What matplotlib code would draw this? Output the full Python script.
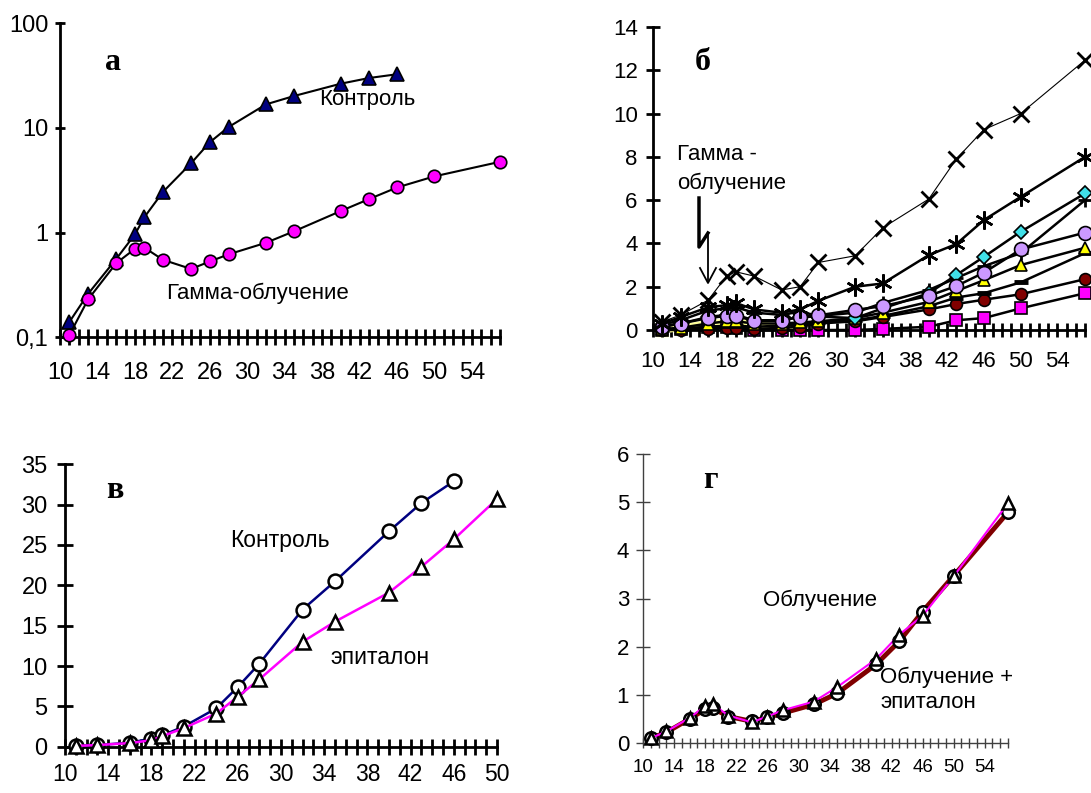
import matplotlib
matplotlib.use("Agg")
import matplotlib.pyplot as plt
from matplotlib.lines import Line2D
from matplotlib.ticker import NullLocator

plt.rcParams['font.family'] = ['Liberation Sans', 'DejaVu Sans']

# ---- данные ----
days = [11, 13, 16, 18, 19, 21, 24, 26, 28, 32, 35, 40, 43, 46, 50, 57]
days_ctrl = days[:14]
days_epit = days[:15]

control = [0.14, 0.26, 0.56, 0.96, 1.4, 2.45, 4.6, 7.3, 10.2, 16.8, 20.2, 26.5, 30.0, 32.6]
gamma = [0.105, 0.23, 0.51, 0.70, 0.72, 0.55, 0.45, 0.53, 0.62, 0.80, 1.03, 1.61, 2.09, 2.70, 3.45, 4.75]

control_v = [0.1, 0.2, 0.5, 1.0, 1.4, 2.5, 4.75, 7.4, 10.3, 17.0, 20.5, 26.7, 30.2, 32.9]
epitalon_v = [0.1, 0.2, 0.45, 0.8, 1.3, 2.3, 4.1, 6.2, 8.35, 13.0, 15.5, 19.1, 22.3, 25.7, 30.7]

irr_g = [0.1, 0.22, 0.5, 0.7, 0.72, 0.55, 0.45, 0.53, 0.62, 0.8, 1.03, 1.63, 2.11, 2.73, 3.47, 4.79]
irr_epit_g = [0.1, 0.24, 0.52, 0.77, 0.8, 0.57, 0.43, 0.55, 0.68, 0.86, 1.16, 1.74, 2.25, 2.64, 3.46, 4.98]

# панель б: отдельные группы
b_cross = [0.38, 0.69, 1.38, 2.49, 2.69, 2.49, 1.85, 2.0, 3.12, 3.43, 4.72, 6.05, 7.9, 9.26, 10.0, 12.47]
b_star = [0.3, 0.6, 1.05, 1.15, 1.25, 0.95, 0.8, 0.95, 1.35, 2.0, 2.15, 3.46, 3.97, 5.08, 6.15, 8.0]
b_plus = [0.25, 0.45, 0.9, 1.0, 1.05, 0.8, 0.7, 0.85, 0.65, 0.8, 1.25, 1.85, 2.4, 2.95, 3.55, 6.0]
b_diamond = [0.15, 0.3, 0.6, 0.7, 0.7, 0.45, 0.45, 0.6, 0.62, 0.55, 1.0, 1.7, 2.54, 3.38, 4.54, 6.31]
b_lilac = [0.15, 0.3, 0.55, 0.65, 0.65, 0.42, 0.42, 0.62, 0.68, 0.93, 1.1, 1.58, 2.03, 2.65, 3.72, 4.5]
b_yellow = [0.05, 0.1, 0.3, 0.4, 0.4, 0.3, 0.3, 0.35, 0.4, 0.55, 0.8, 1.3, 1.8, 2.3, 3.0, 3.8]
b_dash = [0.0, 0.05, 0.15, 0.2, 0.2, 0.15, 0.2, 0.25, 0.35, 0.45, 0.65, 1.1, 1.5, 1.7, 2.2, 3.55]
b_maroon = [0.0, 0.0, 0.05, 0.1, 0.1, 0.05, 0.1, 0.15, 0.3, 0.4, 0.6, 0.95, 1.2, 1.4, 1.65, 2.35]
b_square = [0.0, 0.05, 0.15, 0.15, 0.1, 0.0, 0.0, 0.0, 0.0, 0.0, 0.05, 0.15, 0.45, 0.55, 1.0, 1.7]
days_pale = days[:8]
b_pale = [0.0, 0.1, 0.3, 0.35, 0.35, 0.3, 0.1, 0.15]

W, H = 1091, 793
fig = plt.figure(figsize=(W / 100, H / 100), dpi=100)


def px(x, y):
    return x / W, 1 - y / H


def make_axes(left, top, right, bottom):
    l, t = px(left, top)
    r, b = px(right, bottom)
    return fig.add_axes([l, b, r - l, t - b])


def style(ax, xmax, lw, color, xlen, ylen, xsize, ysize, xpad, ypad):
    for s in ['top', 'right']:
        ax.spines[s].set_visible(False)
    for s in ['left', 'bottom']:
        ax.spines[s].set_linewidth(lw)
        ax.spines[s].set_color(color)
        ax.spines[s].set_zorder(1)
    ticks = list(range(10, xmax + 1))
    ax.set_xticks(ticks)
    ax.set_xticklabels([str(t) if (t - 10) % 4 == 0 else '' for t in ticks])
    ax.set_xlim(10, xmax)
    ax.tick_params(axis='x', direction='inout', length=xlen, width=lw, color=color,
                   labelsize=xsize, pad=xpad)
    ax.tick_params(axis='y', direction='inout', length=ylen, width=lw, color=color,
                   labelsize=ysize, pad=ypad)
    ax.patch.set_visible(False)


lab_font = dict(family=['Liberation Serif', 'DejaVu Serif'], fontweight='bold', fontsize=23)

# ---- а ----
ax = make_axes(60, 23.3, 500, 337.3)
ax.set_yscale('log')
ax.set_ylim(0.1, 100)
ax.set_yticks([0.1, 1, 10, 100])
ax.set_yticklabels(['0,1', '1', '10', '100'])
ax.yaxis.set_minor_locator(NullLocator())
style(ax, 57, 2.0, 'black', 11, 7, 17, 17, 12, 5)
ax.plot(days_ctrl, control, '-', color='black', lw=1.5, marker='^', ms=10,
        mfc='#000080', mec='black', mew=1.2, clip_on=False, zorder=3)
ax.plot(days, gamma, '-', color='black', lw=1.5, marker='o', ms=9,
        mfc='#FF00FF', mec='black', mew=1.2, clip_on=False, zorder=4)
fig.text(*px(113, 62), 'а', ha='center', va='center', **lab_font)
fig.text(*px(367, 100), 'Контроль', ha='center', va='center', fontsize=16)
fig.text(*px(257, 293), 'Гамма-облучение', ha='center', va='center', fontsize=16)

# ---- б ----
ax = make_axes(653, 27, 1085, 330)
ax.set_ylim(0, 14)
ax.set_yticks(range(0, 15, 2))
style(ax, 57, 2.0, 'black', 10, 10, 16, 16, 10, 6)
mk = dict(clip_on=False, color='black', lw=1.8, ms=8.5, mec='black', mew=1.2)
ax.plot(days_pale, b_pale, '-', color='#FFFF99', lw=5, marker='^', ms=9,
        mfc='#FFFF99', mec='#FFFF99', clip_on=False, zorder=2)
ax.plot(days, b_square, marker='s', mfc='#FF00FF', zorder=3, **mk)
ax.plot(days, b_maroon, marker='o', mfc='#800000', zorder=4, **mk)
ax.plot(days, b_dash, marker='_', zorder=5, **{**mk, 'mew': 3.5, 'ms': 10})
ax.plot(days, b_yellow, marker='^', mfc='#FFFF00', zorder=6, **mk)
ax.plot(days, b_plus, marker='+', zorder=7, **{**mk, 'mew': 2, 'ms': 10})
ax.plot(days, b_diamond, marker='D', mfc='#40E0E8', zorder=8, **{**mk, 'ms': 7.5})
ax.plot(days, b_lilac, marker='o', mfc='#CC99FF', zorder=9, **{**mk, 'ms': 10})
ax.plot(days, b_star, marker=(6, 2, 0), zorder=10, **{**mk, 'ms': 13, 'mew': 1.8})
ax.plot(days, b_cross, '-', color='black', lw=0.8, marker='x', ms=12, mec='black',
        mew=2, clip_on=False, zorder=11)
fig.text(*px(703, 62), 'б', ha='center', va='center', **lab_font)
fig.text(*px(677, 155), 'Гамма -', ha='left', va='center', fontsize=16)
fig.text(*px(677, 183), 'облучение', ha='left', va='center', fontsize=16)
# зигзагообразная стрелка
thick = [px(699, 198), px(699, 247), px(708, 233)]
thin = [px(708, 233), px(708, 282)]
head = [px(700, 268), px(708, 283), px(716, 268)]
for pts, w in [(thick, 2.5), (thin, 1.3), (head, 1.3)]:
    xs, ys = zip(*pts)
    fig.add_artist(Line2D(xs, ys, transform=fig.transFigure, color='black', lw=w))

# ---- в ----
ax = make_axes(65, 464.3, 497, 746.7)
ax.set_ylim(0, 35)
ax.set_yticks(range(0, 36, 5))
style(ax, 50, 2.0, 'black', 11, 11, 16.5, 17, 6, 7)
ax.plot(days_ctrl, control_v, '-', color='#000080', lw=1.8, marker='o', ms=10,
        mfc='white', mec='black', mew=1.8, clip_on=False, zorder=3)
ax.plot(days_epit, epitalon_v, '-', color='#FF00FF', lw=1.8, marker='^', ms=10,
        mfc='white', mec='black', mew=1.8, clip_on=False, zorder=4)
fig.text(*px(115, 490), 'в', ha='center', va='center', **lab_font)
fig.text(*px(280, 540), 'Контроль', ha='center', va='center', fontsize=16.5)
fig.text(*px(380, 657), 'эпиталон', ha='center', va='center', fontsize=16.5)

# ---- г ----
ax = make_axes(643, 454, 1008, 743)
ax.set_ylim(0, 6)
ax.set_yticks(range(0, 7))
style(ax, 57, 1.0, '#404040', 7, 10, 13.5, 16, 8, 5)
ax.plot(days, irr_g, '-', color='#800000', lw=3.5, marker='o', ms=9,
        mfc='white', mec='black', mew=1.8, clip_on=False, zorder=3)
ax.plot(days, irr_epit_g, '-', color='#FF00FF', lw=1.5, marker='^', ms=9,
        mfc='white', mec='black', mew=1.8, clip_on=False, zorder=4)
fig.text(*px(710, 480), 'г', ha='center', va='center', **lab_font)
fig.text(*px(820, 600), 'Облучение', ha='center', va='center', fontsize=16)
fig.text(*px(880, 677), 'Облучение +', ha='left', va='center', fontsize=16)
fig.text(*px(880, 703), 'эпиталон', ha='left', va='center', fontsize=16)

fig.savefig('out.png', dpi=100)
